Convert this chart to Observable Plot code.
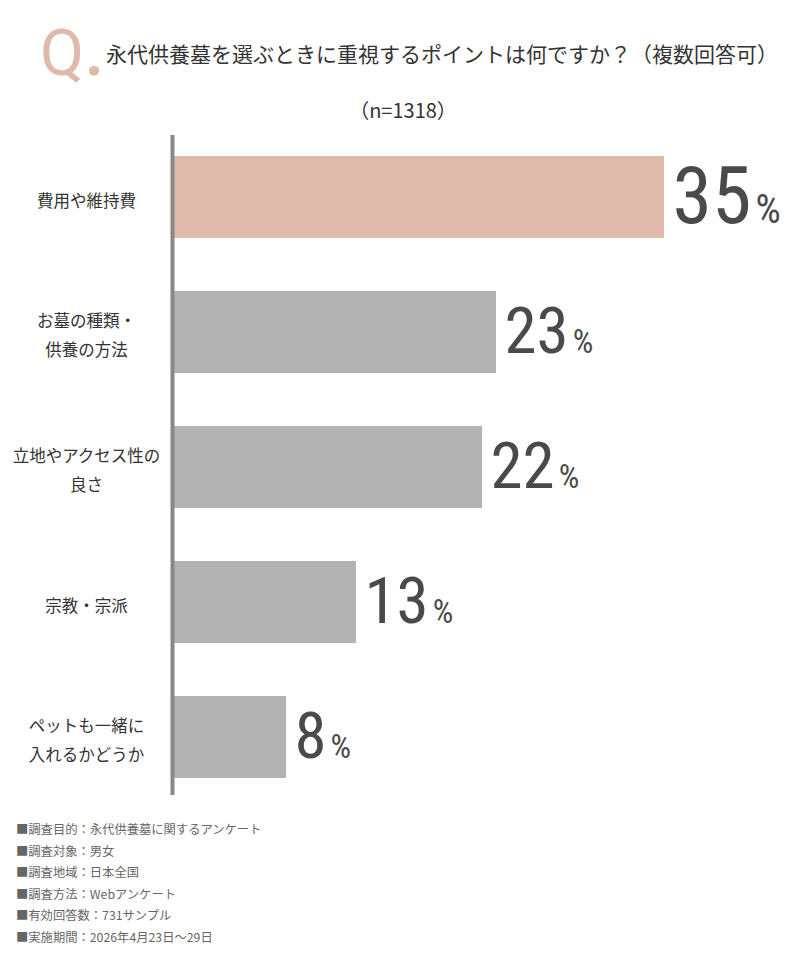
<!DOCTYPE html>
<html><head><meta charset="utf-8">
<script src="https://cdn.jsdelivr.net/npm/d3@7"></script>
<script src="https://cdn.jsdelivr.net/npm/@observablehq/plot@0.6"></script>
<style>
body{margin:0;background:#fff;font-family:"Noto Sans CJK JP","Noto Sans",sans-serif;}
#page{position:relative;width:800px;height:973px;overflow:hidden;background:#fff}
#q{position:absolute;left:40px;top:14px;font-family:"Liberation Sans Narrow","Roboto",sans-serif;font-size:64px;line-height:80px;color:#dfbaab;}
#q .dot{font-weight:bold;margin-left:1px}
#title{position:absolute;left:106px;top:42px;font-size:21px;line-height:22px;color:#333;white-space:nowrap;}
#n{position:absolute;left:0;width:806px;top:98px;text-align:center;font-size:20px;line-height:24px;color:#333;}
#chart{position:absolute;left:0;top:120px;}
#notes{position:absolute;left:16px;top:819px;font-size:12.3px;line-height:21.6px;color:#666;white-space:nowrap;}
</style></head><body>
<div id="page">
 <div id="q"></div>
 <div id="title"></div>
 <div id="n"></div>
 <div id="chart"></div>
 <div id="notes"></div>
</div>
<script>
const qLetter = "Q";
const qDot = ".";
const titleText = "永代供養墓を選ぶときに重視するポイントは何ですか？（複数回答可）";
const sampleText = "（n=1318）";
const categories = ["費用や維持費", "お墓の種類・\n供養の方法", "立地やアクセス性の\n良さ", "宗教・宗派", "ペットも一緒に\n入れるかどうか"];
const values = [35, 23, 22, 13, 8];
const highlight = [true, false, false, false, false];
const notes = [
  "■調査目的：永代供養墓に関するアンケート",
  "■調査対象：男女",
  "■調査地域：日本全国",
  "■調査方法：Webアンケート",
  "■有効回答数：731サンプル",
  "■実施期間：2026年4月23日～29日"
];

const HI = "#dfbaab", GRAY = "#b3b3b3";
const numFont = "'Liberation Sans Narrow', 'Roboto Condensed', Roboto, sans-serif";
const jpFont = "'Noto Sans CJK JP', sans-serif";

const q = document.getElementById("q");
q.textContent = qLetter;
const dot = document.createElement("span");
dot.className = "dot";
dot.textContent = qDot;
q.appendChild(dot);
document.getElementById("title").textContent = titleText;
document.getElementById("n").textContent = sampleText;
document.getElementById("notes").innerHTML = notes.map(t => `<div>${t}</div>`).join("");

const data = categories.map((c, i) => ({cat: c, value: values[i], hi: highlight[i] ? "hi" : "base"}));

const plot = Plot.plot({
  width: 800, height: 690,
  marginTop: 15, marginBottom: 11, marginLeft: 174, marginRight: 66,
  style: {background: "transparent"},
  x: {domain: [0, 40], axis: null},
  y: {domain: categories, axis: null, paddingInner: 0.395, paddingOuter: 0.1476},
  color: {domain: ["hi", "base"], range: [HI, GRAY]},
  marks: [
    Plot.barX(data, {x: "value", y: "cat", fill: "hi"}),
    Plot.ruleX([0], {stroke: "#888", strokeWidth: 4, dx: -2, insetBottom: 4}),
    Plot.text(data, {y: "cat", text: "cat", frameAnchor: "left", dx: -88, textAnchor: "middle",
      fontSize: 16.5, lineHeight: 1.75, fill: "#333", fontFamily: jpFont}),
    Plot.text(data, {x: "value", y: "cat", text: d => String(d.value), textAnchor: "start", dx: 8,
      fontSize: d => d.hi === "hi" ? 80 : 65, fill: "#4a4a4a", fontFamily: numFont, className: "vals"})
  ]
});

d3.select(plot).selectAll(".vals text").each(function() {
  const fs = parseFloat(this.getAttribute("font-size")) || 65;
  d3.select(this).append("tspan").attr("font-size", fs * 0.5).attr("dx", 4).text("%");
});

document.getElementById("chart").appendChild(plot);
</script>
</body></html>
